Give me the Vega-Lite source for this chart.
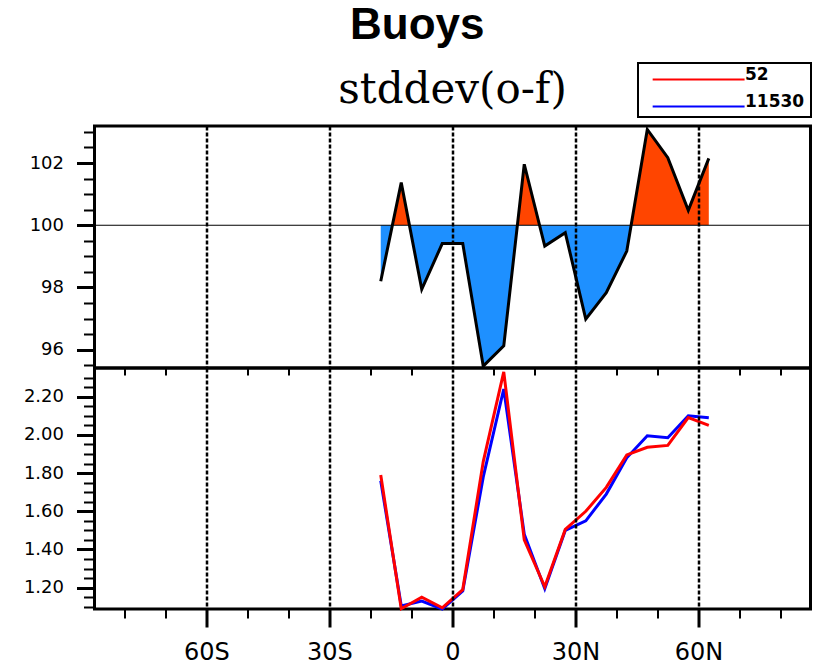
{
  "$schema": "https://vega.github.io/schema/vega-lite/v6.json",
  "background": "white",
  "padding": {"left": 21.5, "top": 4, "right": 2, "bottom": 2},
  "title": {"text": "Buoys", "font": "Liberation Sans", "fontSize": 44, "fontWeight": "bold", "anchor": "middle", "offset": -21, "baseline": "alphabetic", "color": "black"},
  "config": {
    "view": {"stroke": "black", "strokeWidth": 3},
    "axis": {"domain": false, "labelFont": "DejaVu Sans", "labelColor": "black", "tickColor": "black", "title": null, "grid": false, "labelOverlap": false, "labelFlush": false, "labelBound": false}
  },
  "spacing": 0,
  "bounds": "flush",
  "datasets": {
    "ratio": [
      {"lat": -17.5, "value": 98.2},
      {"lat": -12.5, "value": 101.37},
      {"lat": -7.5, "value": 97.94},
      {"lat": -2.5, "value": 99.41},
      {"lat": 2.5, "value": 99.41},
      {"lat": 7.5, "value": 95.47},
      {"lat": 12.5, "value": 96.12},
      {"lat": 17.5, "value": 101.96},
      {"lat": 22.5, "value": 99.33},
      {"lat": 27.5, "value": 99.76},
      {"lat": 32.5, "value": 96.98},
      {"lat": 37.5, "value": 97.83},
      {"lat": 42.5, "value": 99.17},
      {"lat": 47.5, "value": 103.08},
      {"lat": 52.5, "value": 102.17},
      {"lat": 57.5, "value": 100.48},
      {"lat": 62.5, "value": 102.15}
    ],
    "stats": [
      {"lat": -17.5, "run": "52", "value": 1.79},
      {"lat": -12.5, "run": "52", "value": 1.09},
      {"lat": -7.5, "run": "52", "value": 1.15},
      {"lat": -2.5, "run": "52", "value": 1.095},
      {"lat": 2.5, "run": "52", "value": 1.19},
      {"lat": 7.5, "run": "52", "value": 1.86},
      {"lat": 12.5, "run": "52", "value": 2.33},
      {"lat": 17.5, "run": "52", "value": 1.45},
      {"lat": 22.5, "run": "52", "value": 1.205},
      {"lat": 27.5, "run": "52", "value": 1.505},
      {"lat": 32.5, "run": "52", "value": 1.6},
      {"lat": 37.5, "run": "52", "value": 1.725},
      {"lat": 42.5, "run": "52", "value": 1.895},
      {"lat": 47.5, "run": "52", "value": 1.935},
      {"lat": 52.5, "run": "52", "value": 1.945},
      {"lat": 57.5, "run": "52", "value": 2.09},
      {"lat": 62.5, "run": "52", "value": 2.05},
      {"lat": -17.5, "run": "11530", "value": 1.76},
      {"lat": -12.5, "run": "11530", "value": 1.105},
      {"lat": -7.5, "run": "11530", "value": 1.13},
      {"lat": -2.5, "run": "11530", "value": 1.089},
      {"lat": 2.5, "run": "11530", "value": 1.183},
      {"lat": 7.5, "run": "11530", "value": 1.78},
      {"lat": 12.5, "run": "11530", "value": 2.24},
      {"lat": 17.5, "run": "11530", "value": 1.48},
      {"lat": 22.5, "run": "11530", "value": 1.195},
      {"lat": 27.5, "run": "11530", "value": 1.5},
      {"lat": 32.5, "run": "11530", "value": 1.55},
      {"lat": 37.5, "run": "11530", "value": 1.69},
      {"lat": 42.5, "run": "11530", "value": 1.88},
      {"lat": 47.5, "run": "11530", "value": 1.995},
      {"lat": 52.5, "run": "11530", "value": 1.985},
      {"lat": 57.5, "run": "11530", "value": 2.1},
      {"lat": 62.5, "run": "11530", "value": 2.09}
    ]
  },
  "vconcat": [
    {
      "width": 716,
      "height": 242,
      "title": {"text": "stddev(o-f)", "font": "DejaVu Serif", "fontSize": 42, "fontWeight": "normal", "anchor": "middle", "frame": "group", "offset": -22, "baseline": "alphabetic", "color": "black"},
      "layer": [
        {
          "data": {"name": "ratio"},
          "mark": {"type": "area", "stroke": null, "fill": {"gradient": "linear", "x1": 0, "y1": 0, "x2": 0, "y2": 1, "stops": [{"offset": 0, "color": "#FF4500"}, {"offset": 0.4047, "color": "#FF4500"}, {"offset": 0.4047, "color": "#1E90FF"}, {"offset": 1, "color": "#1E90FF"}]}},
          "encoding": {
            "x": {"field": "lat", "type": "quantitative", "scale": {"domain": [-87.3, 87.3], "nice": false, "zero": false}, "axis": {"values": [-60, -30, 0, 30, 60], "labels": false, "ticks": false, "grid": true, "gridColor": "black", "gridDash": [4, 2], "gridWidth": 2.5, "zindex": 1}},
            "y": {"field": "value", "type": "quantitative", "scale": {"domain": [95.41, 103.19], "nice": false, "zero": false}, "axis": {"orient": "left", "values": [96, 98, 100, 102], "format": "d", "labelFontSize": 18, "labelPadding": 13, "tickSize": 18, "tickWidth": 3}},
            "y2": {"datum": 100}
          }
        },
        {
          "data": {"values": [{}]},
          "mark": {"type": "rule", "color": "black", "strokeWidth": 1.2},
          "encoding": {"y": {"datum": 100, "axis": null}}
        },
        {
          "data": {"name": "ratio"},
          "mark": {"type": "line", "color": "black", "strokeWidth": 3},
          "encoding": {
            "x": {"field": "lat", "type": "quantitative", "axis": null},
            "y": {"field": "value", "type": "quantitative", "axis": {"orient": "left", "values": [95.5, 96.5, 97, 97.5, 98.5, 99, 99.5, 100.5, 101, 101.5, 102.5, 103], "labels": false, "tickSize": 11, "tickWidth": 2}}
          }
        }
      ],
      "resolve": {"axis": {"x": "independent", "y": "independent"}}
    },
    {
      "width": 716,
      "height": 241,
      "data": {"name": "stats"},
      "layer": [
        {
          "transform": [{"filter": "datum.run === '11530'"}],
          "mark": {"type": "line", "strokeWidth": 3},
          "encoding": {
            "x": {"field": "lat", "type": "quantitative", "scale": {"domain": [-87.3, 87.3], "nice": false, "zero": false}, "axis": {"orient": "bottom", "values": [-60, -30, 0, 30, 60], "labelExpr": "datum.value === 0 ? '0' : (abs(datum.value) + (datum.value < 0 ? 'S' : 'N'))", "labelFontSize": 24, "labelPadding": 13, "tickSize": 18, "tickWidth": 3, "grid": true, "gridColor": "black", "gridDash": [4, 2], "gridWidth": 2.5, "zindex": 1}},
            "y": {"field": "value", "type": "quantitative", "scale": {"domain": [1.0885, 2.35], "nice": false, "zero": false}, "axis": {"orient": "left", "values": [1.2, 1.4, 1.6, 1.8, 2.0, 2.2], "format": ".2f", "labelFontSize": 18, "labelPadding": 13, "tickSize": 18, "tickWidth": 3}},
            "color": {"field": "run", "type": "nominal", "scale": {"domain": ["52", "11530"], "range": ["#FF0000", "#0000FF"]}, "legend": {"orient": "none", "legendX": 543.5, "legendY": -63, "title": null, "symbolType": "M-0.2,0H9.8", "symbolSize": 338, "symbolStrokeWidth": 2, "labelFont": "DejaVu Sans", "labelFontSize": 17, "labelFontWeight": "bold", "labelColor": "black", "labelBaseline": "alphabetic", "labelOffset": 80, "strokeColor": "black", "padding": 6, "rowPadding": 8, "encode": {"legend": {"update": {"strokeWidth": {"value": 2}}}}}}
          }
        },
        {
          "transform": [{"filter": "datum.run === '52'"}],
          "mark": {"type": "line", "strokeWidth": 3},
          "encoding": {
            "x": {"field": "lat", "type": "quantitative", "axis": {"orient": "top", "values": [-80, -70, -50, -40, -20, -10, 10, 20, 40, 50, 70, 80], "labels": false, "tickSize": -7, "tickWidth": 2, "grid": false, "zindex": 1}},
            "y": {"field": "value", "type": "quantitative", "axis": {"orient": "left", "values": [1.1, 1.15, 1.25, 1.3, 1.35, 1.45, 1.5, 1.55, 1.65, 1.7, 1.75, 1.85, 1.9, 1.95, 2.05, 2.1, 2.15, 2.25, 2.3], "labels": false, "tickSize": 11, "tickWidth": 2}},
            "color": {"field": "run", "type": "nominal"}
          }
        },
        {
          "mark": {"type": "point", "opacity": 0},
          "encoding": {
            "x": {"field": "lat", "type": "quantitative", "axis": {"orient": "bottom", "values": [-80, -70, -50, -40, -20, -10, 10, 20, 40, 50, 70, 80], "labels": false, "tickSize": 9, "tickWidth": 2, "grid": false}},
            "y": {"field": "value", "type": "quantitative", "axis": null}
          }
        }
      ],
      "resolve": {"axis": {"x": "independent", "y": "independent"}}
    }
  ]
}
